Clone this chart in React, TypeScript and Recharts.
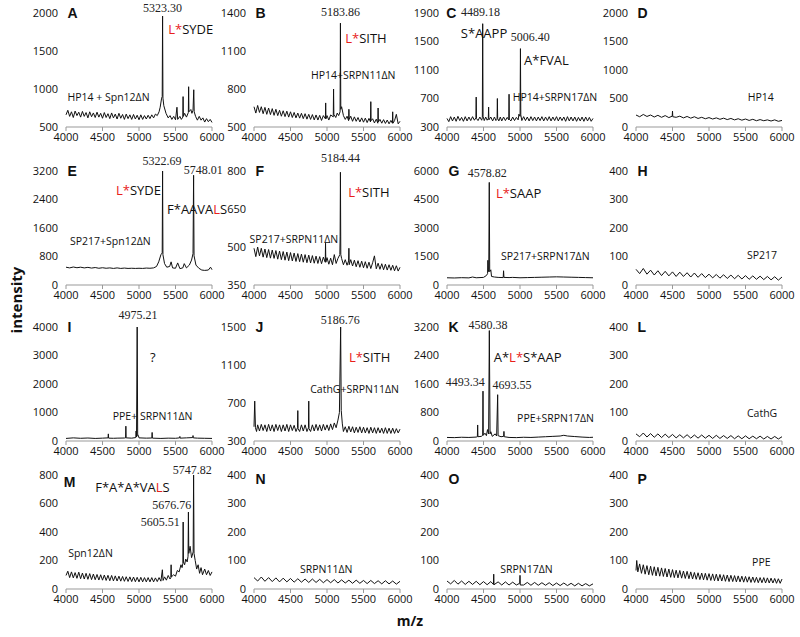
import { LineChart, Line, XAxis, YAxis, ReferenceDot } from 'recharts'

type Pt = [number, number]
type Note = { x: number; y: number; text: string; kind: 'num' | 'seq' | 'tag' | 'letter' }

const MZ_TICKS = [4000, 4500, 5000, 5500, 6000]

// y tick labels per panel
const A_TICKS = [500, 1000, 1500, 2000]
const B_TICKS = [500, 800, 1100, 1400]
const C_TICKS = [300, 700, 1100, 1500, 1900]
const D_TICKS = [0, 500, 1000, 1500, 2000]
const E_TICKS = [0, 800, 1600, 2400, 3200]
const F_TICKS = [350, 500, 650, 800]
const G_TICKS = [0, 1500, 3000, 4500, 6000]
const H_TICKS = [0, 100, 200, 300, 400]
const I_TICKS = [0, 1000, 2000, 3000, 4000]
const J_TICKS = [300, 700, 1100, 1500]
const K_TICKS = [0, 800, 1600, 2400, 3200]
const L_TICKS = [0, 100, 200, 300, 400]
const M_TICKS = [0, 200, 400, 600, 800]
const N_TICKS = [0, 100, 200, 300, 400]
const O_TICKS = [0, 100, 200, 300, 400]
const P_TICKS = [0, 100, 200, 300, 400]

// spectra, [m/z, intensity]
const A_DATA: Pt[] = [[4000,660],[4025,720],[4050,640],[4075,700],[4100,625],[4125,710],[4150,650],[4175,695],[4200,630],[4225,705],[4250,640],[4275,690],[4300,620],[4325,700],[4350,635],[4375,685],[4400,625],[4425,695],[4450,630],[4475,680],[4500,615],[4525,690],[4550,625],[4575,675],[4600,610],[4625,685],[4650,620],[4675,670],[4700,605],[4725,680],[4750,615],[4775,665],[4800,600],[4825,670],[4850,610],[4875,660],[4900,600],[4925,665],[4950,605],[4975,655],[5000,595],[5025,660],[5050,600],[5075,650],[5100,605],[5125,655],[5150,610],[5175,660],[5200,620],[5225,670],[5250,650],[5275,700],[5290,760],[5310,880],[5318,900],[5323,1960],[5328,880],[5340,780],[5370,680],[5400,620],[5425,650],[5450,600],[5475,640],[5500,595],[5520,760],[5530,600],[5560,640],[5580,600],[5600,630],[5604,900],[5608,640],[5625,680],[5650,630],[5676,690],[5680,1030],[5684,700],[5710,730],[5725,680],[5740,720],[5750,990],[5756,700],[5775,640],[5800,590],[5825,640],[5850,590],[5875,620],[5900,565],[5925,610],[5950,570],[5975,600],[6000,560]]
const B_DATA: Pt[] = [[4000,660],[4025,610],[4050,670],[4075,615],[4100,660],[4125,605],[4150,655],[4175,600],[4200,650],[4225,598],[4250,645],[4275,592],[4300,640],[4325,590],[4350,632],[4375,585],[4400,628],[4425,582],[4450,625],[4475,578],[4500,620],[4525,575],[4550,615],[4575,572],[4600,610],[4625,570],[4650,608],[4675,566],[4700,605],[4725,562],[4750,600],[4775,560],[4800,598],[4825,556],[4850,595],[4875,555],[4900,592],[4925,552],[4950,590],[4978,565],[4982,690],[4986,565],[5000,590],[5025,555],[5050,595],[5086,580],[5090,800],[5094,600],[5120,575],[5140,610],[5160,590],[5179,620],[5184,1320],[5189,640],[5200,660],[5225,590],[5250,560],[5275,585],[5296,550],[5300,640],[5304,560],[5325,585],[5350,545],[5375,580],[5400,545],[5425,575],[5450,540],[5475,572],[5500,538],[5525,570],[5550,535],[5575,568],[5596,540],[5600,700],[5604,550],[5625,565],[5650,532],[5675,562],[5696,530],[5700,650],[5704,540],[5725,560],[5750,530],[5775,558],[5800,528],[5825,555],[5850,525],[5875,552],[5896,530],[5900,620],[5904,530],[5925,550],[5950,600],[5975,525],[6000,545]]
const C_DATA: Pt[] = [[4000,420],[4025,375],[4050,445],[4075,385],[4100,440],[4125,380],[4150,450],[4175,390],[4200,435],[4225,380],[4250,445],[4275,385],[4300,440],[4325,390],[4350,445],[4375,395],[4396,430],[4400,720],[4404,420],[4425,390],[4450,440],[4475,395],[4484,430],[4489,1750],[4494,450],[4510,390],[4530,440],[4550,395],[4566,420],[4570,580],[4574,400],[4600,440],[4625,385],[4650,440],[4670,390],[4686,410],[4690,700],[4694,420],[4710,385],[4730,440],[4750,385],[4775,440],[4800,390],[4825,435],[4846,400],[4850,760],[4854,410],[4875,385],[4900,440],[4925,390],[4950,435],[4975,400],[4985,480],[5001,450],[5006,1400],[5011,470],[5025,390],[5050,445],[5075,390],[5100,440],[5125,385],[5150,445],[5175,390],[5200,440],[5225,385],[5250,440],[5275,390],[5300,445],[5325,385],[5350,440],[5375,390],[5400,445],[5425,385],[5450,440],[5475,390],[5500,445],[5525,385],[5550,440],[5575,390],[5600,440],[5625,380],[5650,445],[5675,385],[5700,440],[5725,385],[5750,440],[5775,380],[5800,435],[5825,385],[5850,440],[5875,380],[5900,440],[5925,385],[5950,435],[5975,380],[6000,420]]
const D_DATA: Pt[] = [[4000,210],[4050,180],[4100,220],[4150,185],[4200,210],[4250,175],[4300,205],[4350,170],[4400,200],[4450,165],[4496,190],[4500,280],[4504,180],[4550,170],[4600,190],[4650,160],[4700,185],[4750,155],[4800,180],[4850,150],[4900,170],[4950,145],[5000,165],[5050,140],[5100,160],[5150,135],[5200,155],[5250,130],[5300,150],[5350,125],[5400,145],[5450,120],[5500,140],[5550,115],[5600,135],[5650,110],[5700,130],[5750,110],[5800,125],[5850,105],[5900,125],[5950,100],[6000,115]]
const E_DATA: Pt[] = [[4000,500],[4050,480],[4100,505],[4150,485],[4200,500],[4250,480],[4300,495],[4350,475],[4400,490],[4450,470],[4500,485],[4550,470],[4600,480],[4650,465],[4700,480],[4750,465],[4800,475],[4850,465],[4900,470],[4950,465],[5000,470],[5050,465],[5100,475],[5150,470],[5200,480],[5240,520],[5270,650],[5300,850],[5318,900],[5323,3200],[5328,850],[5350,600],[5380,500],[5420,520],[5440,650],[5460,480],[5500,470],[5530,620],[5560,460],[5600,480],[5620,600],[5650,480],[5690,560],[5720,700],[5740,880],[5748,3080],[5754,820],[5780,560],[5820,470],[5860,420],[5900,410],[5950,420],[5980,500],[6000,430]]
const F_DATA: Pt[] = [[4000,495],[4025,462],[4050,500],[4075,465],[4100,495],[4125,460],[4150,492],[4175,458],[4200,490],[4225,456],[4250,488],[4275,455],[4300,486],[4325,452],[4350,484],[4375,450],[4400,482],[4425,448],[4450,480],[4475,446],[4500,478],[4525,445],[4550,476],[4575,443],[4600,474],[4625,442],[4650,472],[4675,440],[4700,470],[4725,438],[4750,468],[4775,437],[4800,466],[4825,436],[4850,464],[4875,435],[4900,462],[4925,434],[4950,460],[4976,440],[4980,515],[4984,440],[5000,458],[5025,432],[5050,456],[5075,430],[5100,470],[5125,435],[5150,455],[5176,470],[5180,540],[5184,795],[5189,470],[5200,455],[5225,430],[5250,450],[5275,428],[5296,445],[5300,495],[5304,430],[5325,450],[5350,425],[5375,448],[5400,422],[5425,446],[5450,420],[5475,444],[5500,418],[5525,442],[5550,416],[5575,440],[5600,415],[5625,438],[5650,465],[5675,414],[5700,436],[5725,412],[5750,434],[5775,410],[5800,432],[5825,409],[5850,430],[5875,408],[5900,428],[5925,406],[5950,426],[5975,405],[6000,420]]
const G_DATA: Pt[] = [[4000,380],[4100,370],[4200,385],[4300,375],[4350,420],[4400,380],[4500,400],[4540,500],[4556,600],[4560,1300],[4566,700],[4572,800],[4579,5400],[4585,700],[4600,800],[4610,450],[4650,420],[4700,400],[4770,390],[4775,750],[4780,400],[4850,390],[4900,400],[5000,380],[5100,390],[5200,400],[5300,410],[5400,420],[5500,430],[5600,420],[5700,410],[5800,400],[5900,390],[6000,380]]
const H_DATA: Pt[] = [[4000,55],[4050,40],[4100,58],[4150,38],[4200,52],[4250,35],[4300,50],[4350,33],[4400,48],[4450,32],[4500,46],[4550,30],[4600,45],[4650,30],[4700,43],[4750,28],[4800,42],[4850,27],[4900,40],[4950,26],[5000,38],[5050,25],[5100,37],[5150,24],[5200,36],[5250,23],[5300,35],[5350,22],[5400,34],[5450,21],[5500,33],[5550,20],[5600,32],[5650,20],[5700,31],[5750,19],[5800,30],[5850,18],[5900,29],[5950,17],[6000,28]]
const I_DATA: Pt[] = [[4000,90],[4100,110],[4200,95],[4300,105],[4400,90],[4500,100],[4576,110],[4580,250],[4584,100],[4650,95],[4700,100],[4800,105],[4816,110],[4820,520],[4824,110],[4900,100],[4956,120],[4960,350],[4966,140],[4975,4000],[4982,180],[4990,200],[5000,110],[5100,100],[5176,105],[5180,300],[5184,100],[5300,90],[5400,100],[5500,95],[5556,110],[5560,160],[5564,100],[5650,110],[5736,120],[5740,190],[5744,110],[5800,100],[5900,95],[6000,90]]
const J_DATA: Pt[] = [[4000,450],[4010,720],[4020,440],[4035,400],[4050,470],[4075,405],[4100,475],[4125,410],[4150,470],[4175,400],[4200,475],[4225,405],[4250,470],[4275,400],[4300,475],[4325,410],[4350,470],[4375,400],[4400,470],[4425,405],[4450,475],[4475,400],[4500,470],[4525,410],[4550,465],[4575,400],[4596,440],[4600,620],[4604,430],[4625,400],[4650,470],[4675,405],[4700,470],[4725,400],[4746,440],[4750,720],[4754,430],[4775,400],[4800,470],[4825,405],[4850,475],[4875,410],[4900,470],[4925,405],[4950,475],[4975,415],[5000,470],[5025,410],[5050,480],[5075,420],[5100,490],[5125,440],[5150,520],[5170,600],[5187,1500],[5195,620],[5210,480],[5225,400],[5250,450],[5275,390],[5300,455],[5325,395],[5350,450],[5375,385],[5400,445],[5425,390],[5450,450],[5475,385],[5500,445],[5525,385],[5550,440],[5575,380],[5600,445],[5625,385],[5650,440],[5675,380],[5700,440],[5725,385],[5750,435],[5775,380],[5800,440],[5825,380],[5850,435],[5875,380],[5900,435],[5925,380],[5950,430],[5975,385],[6000,425]]
const K_DATA: Pt[] = [[4000,100],[4100,95],[4200,105],[4300,100],[4400,110],[4416,120],[4420,450],[4424,120],[4470,130],[4489,160],[4493,1400],[4497,160],[4520,220],[4540,150],[4555,320],[4570,200],[4580,3100],[4590,200],[4600,260],[4620,130],[4660,200],[4680,140],[4694,1300],[4700,150],[4740,120],[4776,130],[4780,270],[4784,120],[4850,100],[4950,95],[5050,105],[5150,100],[5250,110],[5350,120],[5450,130],[5550,140],[5600,160],[5650,140],[5750,125],[5850,110],[5950,100],[6000,105]]
const L_DATA: Pt[] = [[4000,25],[4050,15],[4100,28],[4150,14],[4200,26],[4250,13],[4300,25],[4350,12],[4400,24],[4450,12],[4500,23],[4550,11],[4600,22],[4650,11],[4700,22],[4750,10],[4800,21],[4850,10],[4900,21],[4950,10],[5000,20],[5050,9],[5100,20],[5150,9],[5200,19],[5250,9],[5300,19],[5350,8],[5400,18],[5450,8],[5500,18],[5550,8],[5600,17],[5650,8],[5700,17],[5750,7],[5800,16],[5850,7],[5900,16],[5950,7],[6000,15]]
const M_DATA: Pt[] = [[4000,95],[4025,125],[4050,80],[4075,120],[4100,78],[4125,115],[4150,75],[4175,118],[4200,72],[4225,112],[4250,70],[4275,110],[4300,68],[4325,108],[4350,66],[4375,105],[4400,65],[4425,102],[4450,63],[4475,100],[4500,62],[4525,98],[4550,60],[4575,96],[4600,58],[4625,95],[4650,57],[4675,92],[4700,56],[4725,90],[4750,55],[4775,88],[4800,54],[4825,86],[4850,53],[4875,85],[4900,52],[4925,84],[4950,51],[4975,82],[5000,50],[5025,82],[5050,50],[5075,80],[5100,50],[5125,80],[5150,50],[5175,80],[5200,50],[5225,78],[5250,52],[5275,80],[5300,55],[5320,135],[5330,60],[5350,85],[5375,62],[5400,95],[5425,70],[5436,80],[5440,170],[5444,85],[5475,100],[5500,90],[5525,130],[5550,120],[5575,170],[5590,150],[5601,180],[5605,470],[5609,190],[5625,170],[5640,210],[5660,190],[5672,230],[5677,540],[5682,250],[5700,300],[5720,220],[5742,260],[5748,800],[5754,250],[5770,200],[5790,140],[5810,170],[5830,110],[5850,150],[5870,100],[5900,140],[5925,100],[5950,130],[5975,95],[6000,120]]
const N_DATA: Pt[] = [[4000,40],[4050,28],[4100,42],[4150,27],[4200,40],[4250,26],[4300,39],[4350,25],[4400,38],[4450,25],[4500,37],[4550,24],[4600,36],[4650,24],[4700,35],[4750,23],[4800,35],[4850,23],[4900,34],[4950,22],[5000,33],[5050,22],[5100,33],[5150,21],[5200,32],[5250,21],[5300,31],[5350,20],[5400,31],[5450,20],[5500,30],[5550,19],[5600,30],[5650,19],[5700,29],[5750,18],[5800,29],[5850,18],[5900,28],[5950,17],[6000,27]]
const O_DATA: Pt[] = [[4000,28],[4050,18],[4100,30],[4150,17],[4200,28],[4250,16],[4300,27],[4350,16],[4400,27],[4450,15],[4500,26],[4550,15],[4600,26],[4636,16],[4640,52],[4644,15],[4700,25],[4750,14],[4800,25],[4850,14],[4900,24],[4950,14],[4996,20],[5000,48],[5004,14],[5050,14],[5100,23],[5150,13],[5200,23],[5250,13],[5300,22],[5350,13],[5400,22],[5450,12],[5500,21],[5550,12],[5600,21],[5650,12],[5700,20],[5750,11],[5800,20],[5850,11],[5900,19],[5950,11],[6000,18]]
const P_DATA: Pt[] = [[4000,65],[4010,100],[4025,60],[4050,88],[4075,55],[4100,85],[4125,52],[4150,82],[4175,50],[4200,80],[4225,48],[4250,78],[4275,46],[4300,76],[4325,45],[4350,74],[4375,44],[4400,72],[4425,42],[4450,70],[4475,41],[4500,68],[4525,40],[4550,66],[4575,39],[4600,65],[4625,38],[4650,63],[4675,37],[4700,62],[4725,36],[4750,60],[4775,35],[4800,58],[4825,34],[4850,57],[4875,33],[4900,56],[4925,32],[4950,55],[4975,31],[5000,54],[5025,30],[5050,53],[5075,29],[5100,52],[5125,28],[5150,51],[5175,28],[5200,50],[5225,27],[5250,49],[5275,26],[5300,48],[5325,26],[5350,47],[5375,25],[5400,46],[5425,25],[5450,45],[5475,24],[5500,44],[5525,24],[5550,43],[5575,23],[5600,42],[5625,23],[5650,41],[5675,22],[5700,40],[5725,22],[5750,40],[5775,21],[5800,39],[5825,21],[5850,38],[5875,21],[5900,37],[5925,20],[5950,36],[5975,20],[6000,35]]

// annotations; {..} = red
const A_NOTES: Note[] = [
  { x: 4020, y: 2000, text: 'A', kind: 'letter' },
  { x: 5323, y: 2065, text: '5323.30', kind: 'num' },
  { x: 5400, y: 1790, text: '{L*}SYDE', kind: 'seq' },
  { x: 4020, y: 900, text: 'HP14 + Spn12ΔN', kind: 'tag' },
]
const B_NOTES: Note[] = [
  { x: 4020, y: 1400, text: 'B', kind: 'letter' },
  { x: 5184, y: 1410, text: '5183.86', kind: 'num' },
  { x: 5250, y: 1200, text: '{L*}SITH', kind: 'seq' },
  { x: 4780, y: 910, text: 'HP14+SRPN11ΔN', kind: 'tag' },
]
const C_NOTES: Note[] = [
  { x: 3990, y: 1900, text: 'C', kind: 'letter' },
  { x: 4460, y: 1910, text: '4489.18', kind: 'num' },
  { x: 4190, y: 1620, text: 'S*AAPP', kind: 'seq' },
  { x: 5140, y: 1560, text: '5006.40', kind: 'num' },
  { x: 5055, y: 1240, text: 'A*FVAL', kind: 'seq' },
  { x: 4900, y: 720, text: 'HP14+SRPN17ΔN', kind: 'tag' },
]
const D_NOTES: Note[] = [
  { x: 4020, y: 2000, text: 'D', kind: 'letter' },
  { x: 5530, y: 530, text: 'HP14', kind: 'tag' },
]
const E_NOTES: Note[] = [
  { x: 4020, y: 3200, text: 'E', kind: 'letter' },
  { x: 5315, y: 3480, text: '5322.69', kind: 'num' },
  { x: 5880, y: 3230, text: '5748.01', kind: 'num' },
  { x: 4685, y: 2670, text: '{L*}SYDE', kind: 'seq' },
  { x: 5384, y: 2130, text: 'F*AAVA{L}S', kind: 'seq' },
  { x: 4055, y: 1235, text: 'SP217+Spn12ΔN', kind: 'tag' },
]
const F_NOTES: Note[] = [
  { x: 4020, y: 800, text: 'F', kind: 'letter' },
  { x: 5184, y: 850, text: '5184.44', kind: 'num' },
  { x: 5290, y: 717, text: '{L*}SITH', kind: 'seq' },
  { x: 3940, y: 532, text: 'SP217+SRPN11ΔN', kind: 'tag' },
]
const G_NOTES: Note[] = [
  { x: 4020, y: 6000, text: 'G', kind: 'letter' },
  { x: 4550, y: 5900, text: '4578.82', kind: 'num' },
  { x: 4670, y: 4840, text: '{L*}SAAP', kind: 'seq' },
  { x: 4740, y: 1530, text: 'SP217+SRPN17ΔN', kind: 'tag' },
]
const H_NOTES: Note[] = [
  { x: 4020, y: 400, text: 'H', kind: 'letter' },
  { x: 5520, y: 105, text: 'SP217', kind: 'tag' },
]
const I_NOTES: Note[] = [
  { x: 4020, y: 4000, text: 'I', kind: 'letter' },
  { x: 4986, y: 4420, text: '4975.21', kind: 'num' },
  { x: 5150, y: 2950, text: '?', kind: 'seq' },
  { x: 4640, y: 880, text: 'PPE+ SRPN11ΔN', kind: 'tag' },
]
const J_NOTES: Note[] = [
  { x: 4020, y: 1500, text: 'J', kind: 'letter' },
  { x: 5180, y: 1575, text: '5186.76', kind: 'num' },
  { x: 5300, y: 1185, text: '{L*}SITH', kind: 'seq' },
  { x: 4770, y: 850, text: 'CathG+SRPN11ΔN', kind: 'tag' },
]
const K_NOTES: Note[] = [
  { x: 4020, y: 3200, text: 'K', kind: 'letter' },
  { x: 4560, y: 3250, text: '4580.38', kind: 'num' },
  { x: 4640, y: 2360, text: 'A*{L*}S*AAP', kind: 'seq' },
  { x: 4250, y: 1660, text: '4493.34', kind: 'num' },
  { x: 4890, y: 1570, text: '4693.55', kind: 'num' },
  { x: 4960, y: 650, text: 'PPE+SRPN17ΔN', kind: 'tag' },
]
const L_NOTES: Note[] = [
  { x: 4020, y: 400, text: 'L', kind: 'letter' },
  { x: 5520, y: 100, text: 'CathG', kind: 'tag' },
]
const M_NOTES: Note[] = [
  { x: 3970, y: 750, text: 'M', kind: 'letter' },
  { x: 4400, y: 715, text: 'F*A*A*VA{L}S', kind: 'seq' },
  { x: 5730, y: 835, text: '5747.82', kind: 'num' },
  { x: 5450, y: 590, text: '5676.76', kind: 'num' },
  { x: 5290, y: 470, text: '5605.51', kind: 'num' },
  { x: 4030, y: 255, text: 'Spn12ΔN', kind: 'tag' },
]
const N_NOTES: Note[] = [
  { x: 4020, y: 385, text: 'N', kind: 'letter' },
  { x: 4630, y: 70, text: 'SRPN11ΔN', kind: 'tag' },
]
const O_NOTES: Note[] = [
  { x: 4020, y: 385, text: 'O', kind: 'letter' },
  { x: 4730, y: 70, text: 'SRPN17ΔN', kind: 'tag' },
]
const P_NOTES: Note[] = [
  { x: 4020, y: 385, text: 'P', kind: 'letter' },
  { x: 5590, y: 95, text: 'PPE', kind: 'tag' },
]

const PANELS = [
  { data: A_DATA, ticks: A_TICKS, notes: A_NOTES },
  { data: B_DATA, ticks: B_TICKS, notes: B_NOTES },
  { data: C_DATA, ticks: C_TICKS, notes: C_NOTES },
  { data: D_DATA, ticks: D_TICKS, notes: D_NOTES },
  { data: E_DATA, ticks: E_TICKS, notes: E_NOTES },
  { data: F_DATA, ticks: F_TICKS, notes: F_NOTES },
  { data: G_DATA, ticks: G_TICKS, notes: G_NOTES },
  { data: H_DATA, ticks: H_TICKS, notes: H_NOTES },
  { data: I_DATA, ticks: I_TICKS, notes: I_NOTES },
  { data: J_DATA, ticks: J_TICKS, notes: J_NOTES },
  { data: K_DATA, ticks: K_TICKS, notes: K_NOTES },
  { data: L_DATA, ticks: L_TICKS, notes: L_NOTES },
  { data: M_DATA, ticks: M_TICKS, notes: M_NOTES },
  { data: N_DATA, ticks: N_TICKS, notes: N_NOTES },
  { data: O_DATA, ticks: O_TICKS, notes: O_NOTES },
  { data: P_DATA, ticks: P_TICKS, notes: P_NOTES },
]

const COL_X = [66, 254, 447, 636]
const ROW_Y = [13, 171, 327, 475]
const PLOT_W = 146
const PLOT_H = 114
const ML = 52
const MT = 22
const MR = 18
const XH = 26

const SANS = '"Open Sans", "Liberation Sans", sans-serif'
const SERIF = '"Liberation Serif", "DejaVu Serif", serif'

function NoteLabel(props: any) {
  const { viewBox, note } = props
  const x = viewBox?.x ?? viewBox?.cx ?? 0
  const y = viewBox?.y ?? viewBox?.cy ?? 0
  const n: Note = note
  const parts = n.text.split(/(\{[^}]*\})/).filter(Boolean)
  let style: any = { fontFamily: SANS, fontSize: 10.5, fill: '#111' }
  let anchor = 'start'
  if (n.kind === 'num') {
    style = { fontFamily: SERIF, fontSize: 12, fill: '#222' }
    anchor = 'middle'
  } else if (n.kind === 'seq') {
    style = { fontFamily: SANS, fontSize: 13, fill: '#111' }
  } else if (n.kind === 'letter') {
    style = { fontFamily: '"Liberation Sans", Arial, sans-serif', fontSize: 14, fontWeight: 700, fill: '#111' }
  }
  return (
    <text x={x} y={y} textAnchor={anchor} dominantBaseline="central" style={style}>
      {parts.map((p: string, i: number) =>
        p.startsWith('{') ? (
          <tspan key={i} style={{ fill: '#e8201a' }}>{p.slice(1, -1)}</tspan>
        ) : (
          <tspan key={i}>{p}</tspan>
        )
      )}
    </text>
  )
}

function Panel({ data, ticks, notes, col, row }: { data: Pt[]; ticks: number[]; notes: Note[]; col: number; row: number }) {
  const rows = data.map(([mz, v]) => ({ mz, v }))
  return (
    <div style={{ position: 'absolute', left: COL_X[col] - ML, top: ROW_Y[row] - MT }}>
      <LineChart
        width={ML + PLOT_W + MR}
        height={MT + PLOT_H + XH}
        data={rows}
        margin={{ top: MT, right: MR, left: 0, bottom: 0 }}
      >
        <XAxis
          dataKey="mz"
          type="number"
          domain={[4000, 6000]}
          ticks={MZ_TICKS}
          height={XH}
          interval={0}
          stroke="#999"
          tickSize={4}
          tick={{ fill: '#111', fontSize: 11, fontFamily: SANS }}
        />
        <YAxis
          type="number"
          domain={[ticks[0], ticks[ticks.length - 1]]}
          ticks={ticks}
          interval={0}
          width={ML}
          axisLine={false}
          tickLine={false}
          tick={{ fill: '#111', fontSize: 11, fontFamily: SANS }}
        />
        <Line
          type="linear"
          dataKey="v"
          stroke="#111"
          strokeWidth={1}
          dot={false}
          isAnimationActive={false}
        />
        {notes.map((n, i) => (
          <ReferenceDot
            key={i}
            x={n.x}
            y={n.y}
            r={0}
            fill="none"
            stroke="none"
            ifOverflow="visible"
            label={<NoteLabel note={n} />}
          />
        ))}
      </LineChart>
    </div>
  )
}

export default function App() {
  return (
    <div style={{ position: 'absolute', left: 0, top: 0, width: 800, height: 637, background: '#fff' }}>
      {PANELS.map((p, i) => (
        <Panel key={i} data={p.data} ticks={p.ticks} notes={p.notes} col={i % 4} row={Math.floor(i / 4)} />
      ))}
      <svg width={800} height={637} style={{ position: 'absolute', left: 0, top: 0, pointerEvents: 'none' }}>
        <text
          x={16}
          y={300}
          transform="rotate(-90 16 300)"
          textAnchor="middle"
          dominantBaseline="central"
          style={{ fontFamily: SANS, fontSize: 15, fontWeight: 700, fill: '#111' }}
        >
          intensity
        </text>
        <text
          x={410}
          y={620}
          textAnchor="middle"
          dominantBaseline="central"
          style={{ fontFamily: SANS, fontSize: 14, fontWeight: 700, fill: '#111' }}
        >
          m/z
        </text>
      </svg>
    </div>
  )
}
